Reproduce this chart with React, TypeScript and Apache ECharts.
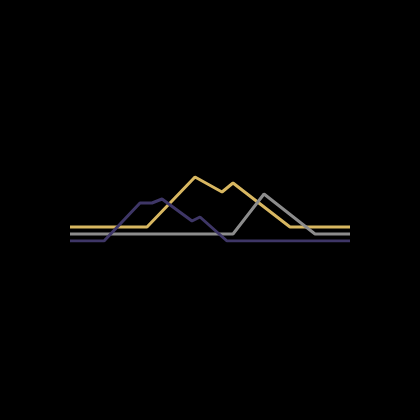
import { useEffect, useRef } from "react";
import * as echarts from "echarts";

// x and y values
const goldSeries: [number, number][] = [
  [0, 14], [77, 14], [125, 64], [152, 49], [163, 58], [220, 14], [280, 14],
];
const graySeries: [number, number][] = [
  [0, 7], [163, 7], [194, 47], [245, 7], [280, 7],
];
const purpleSeries: [number, number][] = [
  [0, 0], [34, 0], [70, 38], [82, 38], [92, 42], [122, 20], [130, 24], [157, 0], [280, 0],
];

const SERIES = [
  { name: "gold", data: goldSeries, color: "#d8b761" },
  { name: "gray", data: graySeries, color: "#8c8c8c" },
  { name: "purple", data: purpleSeries, color: "#3e3666" },
];

export default function App() {
  const ref = useRef<HTMLDivElement | null>(null);

  useEffect(() => {
    if (!ref.current) {
      return;
    }
    const chart = echarts.init(ref.current, undefined, { renderer: "svg" });
    chart.setOption({
      animation: false,
      backgroundColor: "#000000",
      grid: { left: 70, right: 70, top: 141, bottom: 179 },
      xAxis: { type: "value", min: 0, max: 280, show: false },
      yAxis: { type: "value", min: 0, max: 100, show: false },
      series: SERIES.map((s) => ({
        type: "line",
        name: s.name,
        data: s.data,
        symbol: "none",
        lineStyle: { color: s.color, width: 3 },
        itemStyle: { color: s.color },
      })),
    });
    return () => chart.dispose();
  }, []);

  return (
    <div
      ref={ref}
      style={{ position: "fixed", left: 0, top: 0, width: 420, height: 420 }}
    />
  );
}
